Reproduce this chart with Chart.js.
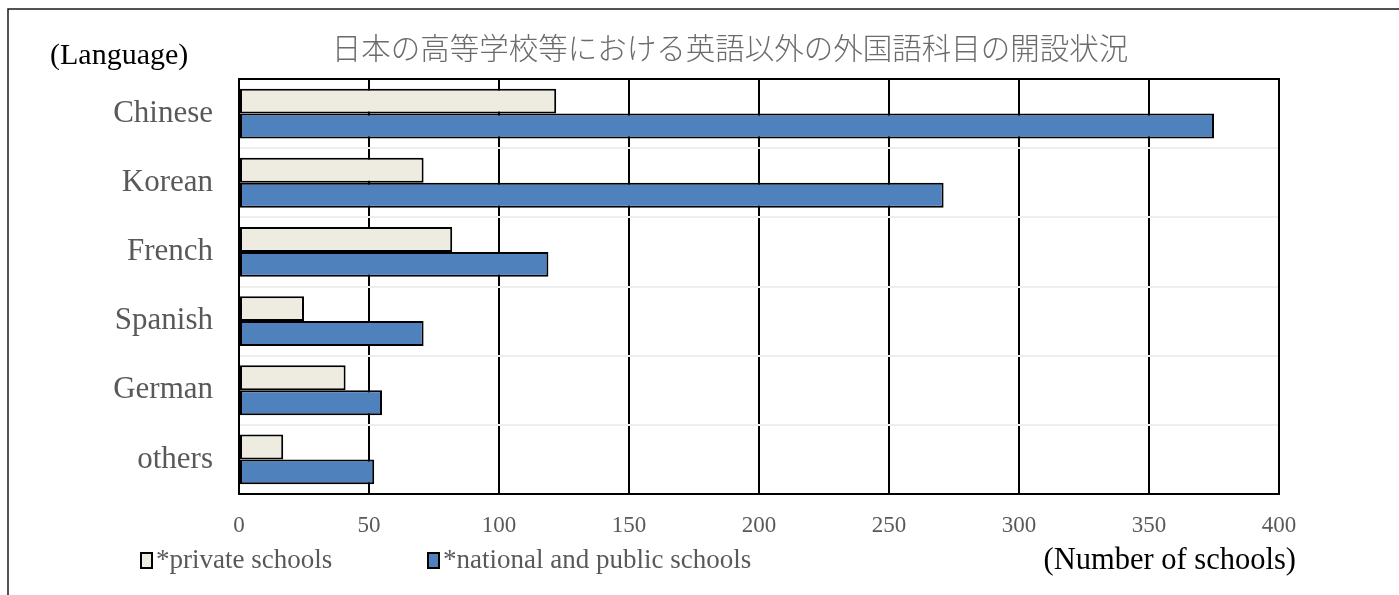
<!DOCTYPE html>
<html>
<head>
<meta charset="utf-8">
<script src="https://cdn.jsdelivr.net/npm/chart.js@4"></script>
<style>
  html, body { margin: 0; padding: 0; background: #ffffff; }
  #wrap { position: relative; width: 1399px; height: 595px; }
</style>
</head>
<body>
<div id="wrap"><canvas id="c" width="1399" height="595"></canvas></div>
<script>
// ---- data ----
const categories = ['Chinese', 'Korean', 'French', 'Spanish', 'German', 'others'];
const privateSchools = [122, 71, 82, 25, 41, 17];
const nationalPublicSchools = [375, 271, 119, 71, 55, 52];
const seriesLabels = ['*private schools', '*national and public schools'];
const xTickValues = [0, 50, 100, 150, 200, 250, 300, 350, 400];
const chartTitle = '日本の高等学校等における英語以外の外国語科目の開設状況';
const yAxisTitle = '(Language)';
const xAxisTitle = '(Number of schools)';

const SERIF = '"Liberation Serif", "DejaVu Serif", serif';

const decorPlugin = {
  id: 'decor',
  beforeDraw(chart) {
    const ctx = chart.ctx;
    ctx.save();
    ctx.fillStyle = '#ffffff';
    ctx.fillRect(0, 0, chart.width, chart.height);
    ctx.strokeStyle = '#1a1a1a';
    ctx.lineWidth = 1.5;
    ctx.beginPath();
    ctx.moveTo(8, chart.height + 2);
    ctx.lineTo(8, 9);
    ctx.lineTo(chart.width + 2, 9);
    ctx.stroke();
    ctx.restore();
  },
  beforeDatasetsDraw(chart) {
    const a = chart.chartArea;
    const ctx = chart.ctx;
    ctx.save();
    ctx.strokeStyle = '#000000';
    ctx.lineWidth = 2;
    ctx.strokeRect(a.left, a.top, a.right - a.left, a.bottom - a.top);
    ctx.restore();
  },
  afterDraw(chart) {
    const ctx = chart.ctx;
    ctx.save();
    // title
    ctx.fillStyle = '#6b6b6b';
    ctx.font = '300 29.5px "Noto Sans CJK JP"';
    ctx.textAlign = 'center';
    ctx.textBaseline = 'middle';
    ctx.fillText(chartTitle, 730, 48);
    // axis titles
    ctx.fillStyle = '#000000';
    ctx.font = '30px ' + SERIF;
    ctx.textAlign = 'left';
    ctx.fillText(yAxisTitle, 50, 56);
    ctx.textAlign = 'right';
    ctx.font = '30.5px ' + SERIF;
    ctx.fillText(xAxisTitle, 1296, 561);
    // legend
    const boxX = [141, 428];
    ctx.font = '27px ' + SERIF;
    ctx.textAlign = 'left';
    chart.data.datasets.forEach((ds, i) => {
      const x = boxX[i];
      ctx.fillStyle = ds.backgroundColor;
      ctx.fillRect(x, 553, 11, 15);
      ctx.strokeStyle = '#000000';
      ctx.lineWidth = 2;
      ctx.strokeRect(x, 553, 11, 15);
      ctx.fillStyle = '#595959';
      ctx.fillText(ds.label, x + 15, 561);
    });
    ctx.restore();
  }
};

new Chart(document.getElementById('c'), {
  type: 'bar',
  data: {
    labels: categories,
    datasets: [
      {
        label: seriesLabels[0],
        data: privateSchools,
        backgroundColor: '#EEECE1',
        borderColor: '#000000',
        borderWidth: 2,
        borderSkipped: false
      },
      {
        label: seriesLabels[1],
        data: nationalPublicSchools,
        backgroundColor: '#4F81BD',
        borderColor: '#000000',
        borderWidth: 2,
        borderSkipped: false
      }
    ]
  },
  options: {
    indexAxis: 'y',
    responsive: false,
    animation: false,
    devicePixelRatio: 1,
    categoryPercentage: 0.72,
    barPercentage: 1.0,
    layout: { padding: { top: 79, left: 20, right: 120, bottom: 56 } },
    plugins: {
      legend: { display: false },
      title: { display: false },
      tooltip: { enabled: false }
    },
    scales: {
      x: {
        min: 0,
        max: 400,
        afterBuildTicks(scale) { scale.ticks = xTickValues.map(v => ({ value: v })); },
        afterFit(scale) { scale.height = 45; },
        ticks: {
          color: '#595959',
          font: { family: SERIF, size: 23 },
          padding: 18,
          maxRotation: 0
        },
        grid: { color: '#000000', lineWidth: 2, drawTicks: false },
        border: { display: true, color: '#000000', width: 2 }
      },
      y: {
        afterFit(scale) { scale.width = 239 - 20; },
        ticks: {
          color: '#595959',
          font: { family: SERIF, size: 31 },
          padding: 26
        },
        grid: { color: '#eeeeee', lineWidth: 2, drawTicks: false, offset: true },
        border: { display: true, color: '#000000', width: 2 }
      }
    }
  },
  plugins: [decorPlugin]
});
</script>
</body>
</html>
